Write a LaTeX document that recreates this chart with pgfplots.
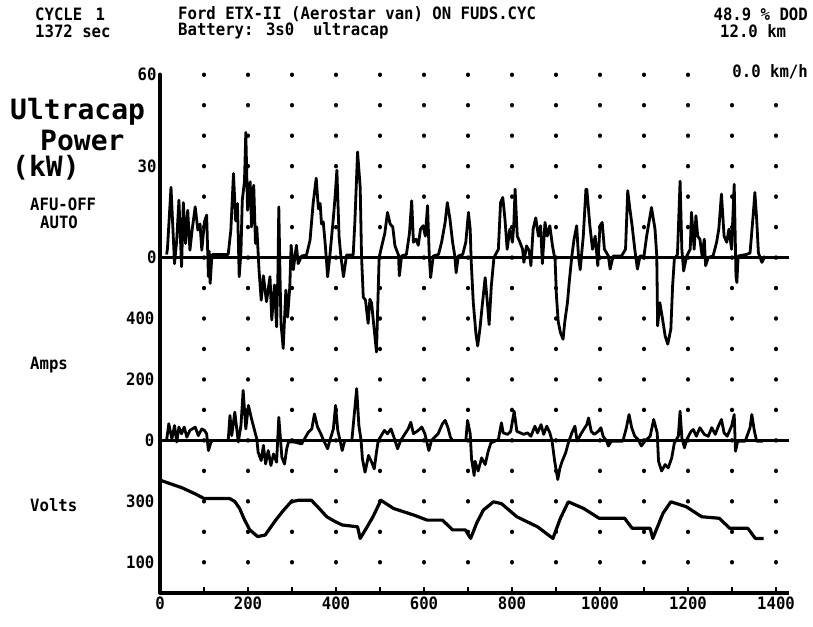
\documentclass[border=0pt]{standalone}
\usepackage{pgfplots}
\pgfplotsset{compat=1.18}
\usepackage{fontspec}
\newfontfamily\dm[FakeStretch=0.92]{DejaVu Sans Mono}
\newfontfamily\bigmono{DejaVu Sans Mono}
\newcommand\dmfont{\dm\bfseries\fontsize{17}{15}\selectfont}
\newcommand\labfont{\bigmono\bfseries\fontsize{28}{28}\selectfont}

\pgfplotsset{
  panel/.style={
    at={(160pt,33pt)}, anchor=south west,
    scale only axis, width=629.2pt, height=518.5pt,
    xmin=0, xmax=1430,
    ticklabel style={font=\dmfont},
    /pgf/number format/assume math mode=true,
    y tick style={draw=none},
  },
  hidden/.style={
    axis x line=none, axis y line=left,
    axis line style={draw=none},
  },
}

\begin{document}
\begin{tikzpicture}[x=1pt,y=1pt]
\path[use as bounding box] (0,0) rectangle (813,626);

% header text
\node[anchor=west,inner sep=0] at (35,612) {\dmfont CYCLE \kern4pt1};
\node[anchor=west,inner sep=0] at (35,595) {\dmfont 1372 sec};
\node[anchor=west,inner sep=0] at (178,612) {\dmfont Ford ETX-II (Aerostar van) ON FUDS.CYC};
\node[anchor=west,inner sep=0] at (178,595) {\dmfont Battery: 3s0\ \ ultracap};
\node[anchor=east,inner sep=0] at (808,612) {\dmfont 48.9 \% DOD};
\node[anchor=west,inner sep=0] at (720,595) {\dmfont 12.0 km};

% side labels
\node[anchor=west,inner sep=0] at (10,514) {\labfont Ultracap};
\node[anchor=west,inner sep=0] at (40,486) {\labfont Power};
\node[anchor=west,inner sep=0] at (12,458) {\labfont (kW)};
\node[anchor=west,inner sep=0] at (30,422) {\dmfont AFU-OFF};
\node[anchor=west,inner sep=0] at (40,404) {\dmfont AUTO};
\node[anchor=west,inner sep=0] at (30,261) {\dmfont Amps};
\node[anchor=west,inner sep=0] at (30,121) {\dmfont Volts};

% power (kW): 1 grid row = 10 kW
\begin{axis}[panel,
    ymin=-110, ymax=60,
    axis x line=bottom, axis y line=left,
    axis line style={-, line width=3.5pt},
    xtick={0,100,...,1400},
    xticklabels={0,,200,,400,,600,,800,,1000,,1200,,1400},
    x tick style={line width=2pt, black},
    tick align=inside, major tick length=6pt,
    ytick={0,30,60},
    xmajorgrids=true,
    major grid style={black, line width=4pt, line cap=round, dash pattern=on 0.5pt off 29.97pt},
  ]
  \addplot[line width=3.5pt] coordinates {(0,0) (1430,0)};
  \addplot[line width=2.8pt, line join=round] coordinates {
    (15,1)(17,3)(25,23)(33,-2)(38,5.7)(43,18.8)(49,-3)(53,18)(58,4.6)(63,15.5)(68,2.4)(73,9)(80,16.6)(86,9)(91,11)(95,2.4)(101,11.7)(106,13.9)(110,-6.3)(112,2)(114,-8.5)(118,0.8)(121,1)(155,1)
    (161,9)(167,27.5)(172,12)(176,17.7)(180,-6.3)(184,2)(187,18.8)(192,25)(195,41)(199,15.5)(205,24.8)(208,10)(213,23.7)(217,4.6)(220,10)(225,-4)(230,-14)(235,-6)(242,-14.5)(250,-6.3)(254,-20.5)(260,-9)(265,-22.7)(268,-5)(270,16.6)(273,-8)(275,-21.6)(280,-29.8)(286,-10.7)(290,-19.5)(295,-9.6)(298,4)(303,-4)(310,4)(314,-2)(322,0.5)
    (333,0.8)(341,5.7)(348,17.7)(355,26)(360,16)(364,17.7)(367,11)(371,11.7)(376,3.5)(381,-6.3)(386,0.5)(394,13)(398,20)(402,28.6)(407,6.8)(411,0.5)(417,-6.3)(424,0.8)(439,0.8)(443,12)(449,34.6)(455,23)(458,0.5)(462,-13)(467,-14)(473,-21.6)(477,-13.7)(481,-15)(485,-21)(492,-31)(498,0)
    (506,5)(511,8)(517,14.8)(523,11)(529,10)(534,3.8)(542,0.8)(544,-6)(549,0.5)(560,1)(567,8)(572,18.6)(576,5)(582,6)(587,4)(592,9.3)(598,10.4)(603,7)(608,17)(612,0.5)(615,-6.6)(621,0.5)(633,1)(640,5)(648,11.5)(653,18)(659,12.6)(665,5)(670,0.5)(673,-5)(678,0.5)(688,1)
    (695,5)(701,14.8)(705,9.3)(707,-0.5)(712,-14.8)(718,-25)(722,-29)(727,-23.5)(733,-14.8)(739,-6.6)(744,-14.8)(748,-22)(753,-9.3)(759,0)(769,2.7)(774,18)(779,19.7)(784,12.6)(789,2.7)(795,9.3)(801,5)(804,10.4)(807,22.4)(812,7)(818,5)(824,2.7)(827,-1.6)(833,3.8)(839,2.2)(843,-2.7)(848,9.3)(854,13)(860,7)(865,10.4)(869,-2)(875,11.5)(880,7)(886,10.4)(892,3.8)(898,-1)
    (901,-12.6)(905,-21)(910,-24.6)(916,-26.8)(920,-21)(926,-14.8)(930,-8.2)(936,0.5)(941,6)(947,10.4)(951,0.5)(955,-4)(962,7)(968,22.4)(970,22.4)(977,10.4)(983,2.7)(989,7)(995,-2.7)(1000,10.4)(1005,11.5)(1010,2.7)(1019,0.5)(1023,-3.8)(1030,0.5)(1049,0.5)
    (1058,2.7)(1063,21.9)(1068,15.8)(1073,10.4)(1079,2.7)(1085,-3.8)(1091,0.5)(1100,0.5)(1106,7)(1117,16.4)(1125,9.3)(1129,0.5)(1131,-22.4)(1136,-14.8)(1142,-20)(1148,-25.7)(1154,-28.4)(1161,-23.5)(1165,-9.3)(1169,-0.5)(1176,1)(1182,25)(1186,2.7)(1190,-4.4)(1197,0.5)
    (1205,2.7)(1208,14.8)(1214,2.7)(1218,13.7)(1222,7)(1227,6)(1232,0.5)(1237,6)(1240,-2.7)(1246,0)(1257,0.5)(1265,5)(1270,9.3)(1276,20.8)(1282,7)(1288,5)(1293,9.3)(1299,2.7)(1305,24)(1309,-6)(1311,-8.2)(1314,0.5)(1333,1)(1341,1.5)(1348,13.7)(1352,21.3)(1356,12.6)(1360,1.5)(1368,-1.6)(1375,0.5)
  };
\end{axis}

% current (A): 1 grid row = 100 A
\begin{axis}[panel, hidden,
    ymin=-500, ymax=1200,
    ytick={0,200,400},
  ]
  \addplot[line width=3.5pt] coordinates {(0,0) (1430,0)};
  \addplot[line width=2.8pt, line join=round] coordinates {
    (15,0)(20,55)(27,5)(33,49)(38,-5)(43,44)(49,22)(55,44)(61,11)(68,33)(80,44)(87,16)(95,38)(101,33)(106,22)(110,-33)(116,-5)(120,0)(155,0)
    (159,82)(163,16)(170,93)(178,-5)(184,50)(189,164)(195,38)(201,115)(208,71)(214,38)(220,5)(223,-38)(230,-66)(235,-16)(240,-77)(246,-33)(252,-82)(258,-44)(265,-71)(270,76)(277,-55)(283,-77)(288,-27)(292,-5)(305,-5)(322,-11)
    (337,27)(345,38)(351,87)(358,44)(364,27)(372,0)(381,-27)(386,0)(394,38)(399,115)(404,33)(410,-5)(414,-33)(420,0)(436,0)(442,93)(447,170)(452,49)(457,0)(460,-60)(466,-104)(474,-49)(481,-71)(487,-93)(492,-38)(496,0)
    (510,33)(517,22)(525,38)(533,5)(540,-27)(547,0)(564,38)(570,60)(576,22)(587,33)(595,44)(602,22)(611,-33)(617,0)(632,22)(642,55)(648,66)(654,44)(660,11)(665,0)(695,0)
    (699,66)(705,22)(708,-60)(714,-115)(716,-68)(723,-100)(731,-57)(739,-79)(746,-35)(752,-8)(769,3)(776,58)(780,25)(790,20)(797,30)(805,96)(811,30)(819,25)(826,20)(835,25)(843,14)(852,47)(858,25)(866,52)(872,20)(879,47)(886,25)(891,-2)
    (897,-68)(904,-128)(909,-90)(914,-68)(922,-40)(928,-8)(936,25)(943,47)(948,-2)(958,25)(970,52)(974,74)(980,30)(987,20)(996,30)(1002,42)(1007,14)(1015,-2)(1019,-18)(1026,-2)(1052,-2)
    (1060,42)(1066,85)(1072,42)(1079,14)(1087,3)(1094,-18)(1102,-2)(1114,14)(1122,69)(1130,25)(1133,-68)(1140,-100)(1148,-79)(1155,-90)(1163,-57)(1169,-8)(1178,14)(1182,96)(1186,9)(1192,-24)(1197,3)
    (1207,30)(1212,36)(1219,14)(1227,42)(1237,20)(1246,14)(1254,42)(1262,20)(1269,47)(1276,69)(1282,25)(1289,14)(1299,47)(1305,85)(1308,-35)(1313,-2)(1330,-2)(1341,42)(1345,85)(1351,30)(1356,-2)(1370,-2)
  };
\end{axis}

% battery voltage (V): 1 grid row = 100 V
\begin{axis}[panel, hidden,
    ymin=0, ymax=1700,
    ytick={100,300},
  ]
  \addplot[line width=3.2pt, line join=round] coordinates {
    (0,370)(20,360)(50,345)(80,325)(100,310)(158,310)(170,300)(181,277)(192,240)(204,207)(222,185)(239,190)(263,239)(280,270)(298,299)(315,304)(344,304)(360,280)(379,250)(397,235)(414,223)(449,217)(455,179)(470,215)(484,250)(502,304)
    (531,277)(578,255)(607,239)(642,239)(665,207)(694,207)(706,179)(720,230)(735,272)(758,299)(776,293)(811,250)(858,217)(893,179)(910,245)(928,299)(963,277)(998,245)(1056,245)(1073,212)(1114,212)(1120,179)
    (1143,261)(1161,299)(1196,283)(1231,250)(1271,245)(1295,212)(1336,212)(1353,179)(1372,179)
  };
\end{axis}

% speed readout printed over the top row of grid dots
\node[anchor=east,fill=white,inner sep=2pt] at (810,554) {\dmfont 0.0 km/h};
\end{tikzpicture}
\end{document}
